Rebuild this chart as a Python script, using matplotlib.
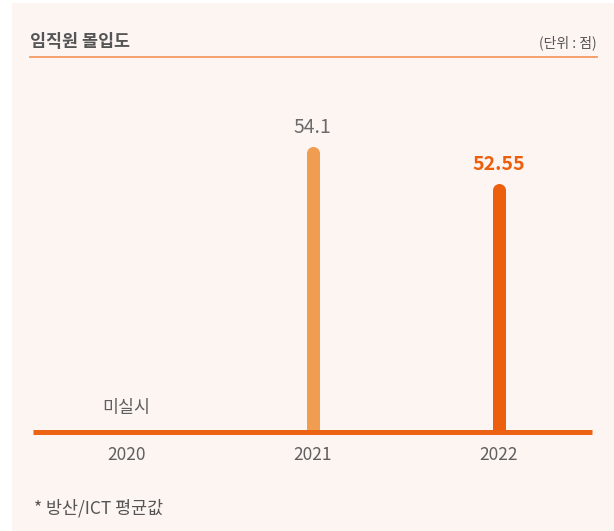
import matplotlib
matplotlib.use("Agg")
import matplotlib.pyplot as plt
from matplotlib.patches import Rectangle
from matplotlib.lines import Line2D

plt.rcParams['font.family'] = ['Noto Sans CJK KR', 'DejaVu Sans']

# Data
years = ["2020", "2021", "2022"]
scores = [None, 54.1, 52.55]
labels = ["미실시", "54.1", "52.55"]
bar_colors = ["#f09d52", "#f09d52", "#ec600d"]
label_colors = ["#5f5f5f", "#6b6b6b", "#ec600d"]

W, H = 614, 531
fig = plt.figure(figsize=(W / 100, H / 100), dpi=100)
fig.patch.set_facecolor("white")

def fx(px):
    return px / W

def fy(py):
    return 1 - py / H

# Panel background
fig.patches.append(Rectangle((fx(12), 0), 1 - fx(12), fy(3), transform=fig.transFigure,
                             facecolor="#fdf5f2", edgecolor="none", zorder=-5))

# Header
fig.text(fx(30), fy(42), "임직원 몰입도", fontsize=12.5, fontweight="bold",
         color="#555555", va="center", ha="left")
fig.text(fx(597), fy(43), "(단위 : 점)", fontsize=10, color="#555555",
         va="center", ha="right")
fig.lines.append(Line2D([fx(30), fx(597)], [fy(56.5), fy(56.5)], transform=fig.transFigure,
                        color="#f29a62", linewidth=1.3))

# Chart axes
ax_left, ax_right, ax_top, ax_bottom = 33, 592, 100, 432
ax = fig.add_axes([fx(ax_left), fy(ax_bottom), fx(ax_right - ax_left), (ax_bottom - ax_top) / H])
ax.set_facecolor("none")
ymin, ymax = 42.12, 56.03
ax.set_xlim(-0.5, 2.5)
ax.set_ylim(ymin, ymax)
for s in ax.spines.values():
    s.set_visible(False)
ax.set_xticks([])
ax.set_yticks([])

px_per_unit = (ax_bottom - ax_top) / (ymax - ymin)
bar_px = 13
bar_pt = bar_px * 0.72
cap = (bar_px / 2) / px_per_unit

# Lollipop-style bars: flat bottom on the baseline, rounded top
for i, (v, c) in enumerate(zip(scores, bar_colors)):
    if v is None:
        continue
    ax.plot([i, i], [ymin, v - cap], color=c, linewidth=bar_pt,
            solid_capstyle="butt", zorder=2, clip_on=False)
    ax.plot([i], [v - cap], marker="o", markersize=bar_pt, markeredgewidth=0,
            color=c, zorder=2, clip_on=False)

# Baseline
ax.plot([-0.5, 2.5], [ymin, ymin], color="#ec6413", linewidth=3.6,
        solid_capstyle="butt", zorder=3, clip_on=False)

# Value labels
for i, (v, t, c) in enumerate(zip(scores, labels, label_colors)):
    if v is None:
        ax.text(i, ymin + 24 / px_per_unit, t, ha="center", va="center",
                fontsize=12.5, color=c)
    else:
        ax.text(i, v + 19 / px_per_unit, t, ha="center", va="center",
                fontsize=14, color=c,
                fontweight="bold" if i == 2 else "normal")

# Year labels
for i, y in enumerate(years):
    ax.text(i, ymin - 23 / px_per_unit, y, ha="center", va="center",
            fontsize=12.5, color="#5f5f5f")

# Footnote
fig.text(fx(34), fy(508), "* 방산/ICT 평균값", fontsize=12.5, color="#555555",
         va="center", ha="left")

fig.savefig("out.png", dpi=100, facecolor=fig.get_facecolor())
